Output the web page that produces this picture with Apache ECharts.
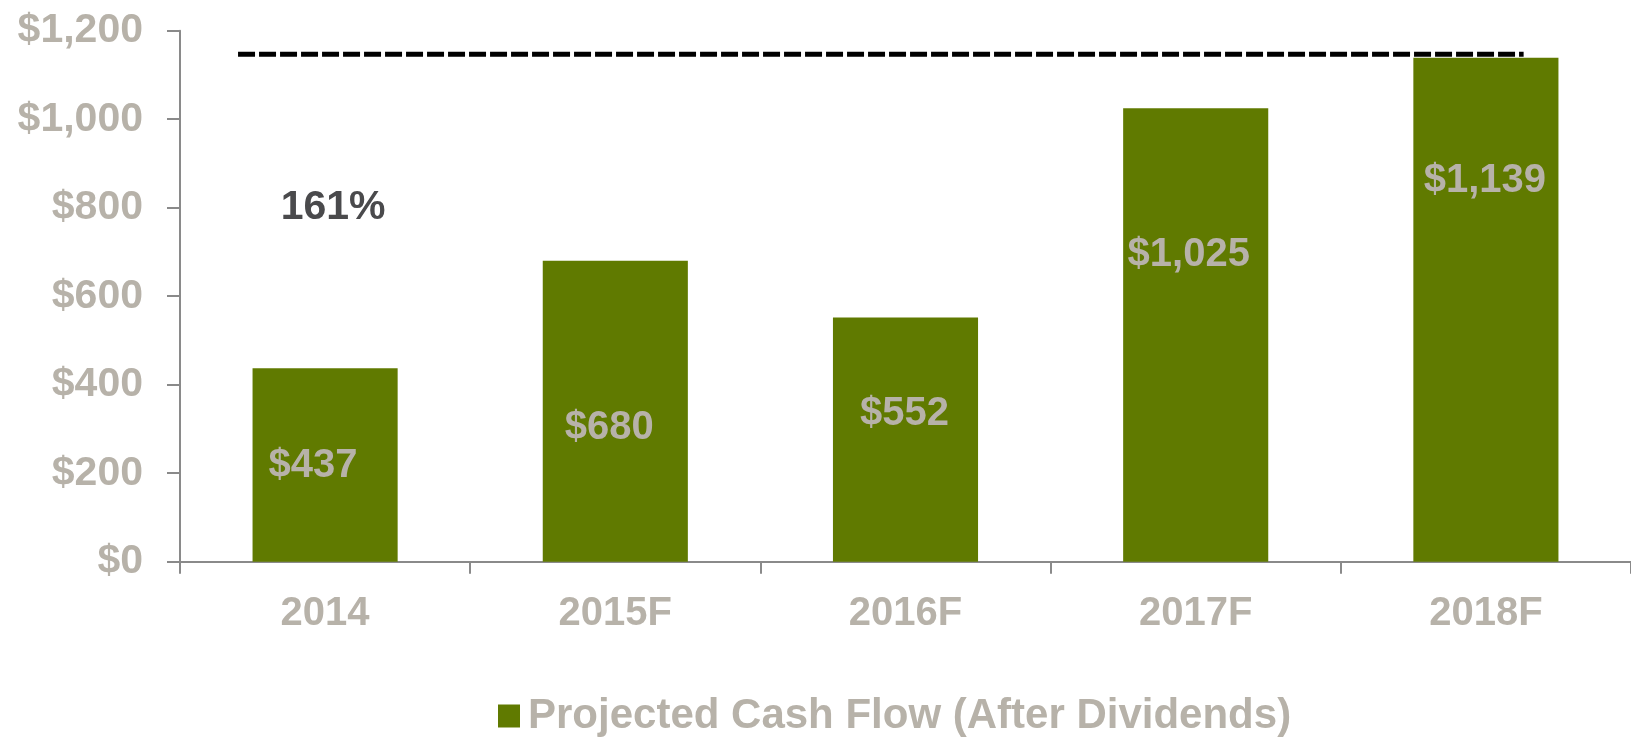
<!DOCTYPE html>
<html>
<head>
<meta charset="utf-8">
<script src="https://cdn.jsdelivr.net/npm/echarts@6/dist/echarts.min.js"></script>
<style>
html,body{margin:0;padding:0;background:#fff;}
#chart{width:1631px;height:739px;}
</style>
</head>
<body>
<div id="chart"></div>
<script>
// ---- data ----
var categories = ['2014', '2015F', '2016F', '2017F', '2018F'];
var cashFlow = [437, 680, 552, 1025, 1139];
var seriesName = 'Projected Cash Flow (After Dividends)';
var dividendLevel = 1147;          // dashed reference line value
var dividendSpan = [-0.3, 4.13];    // category-index span of dashed line
var annotationText = '161%';
var annotationAt = [0, 805];        // [category index, value]
var yTicks = { min: 0, max: 1200, interval: 200 };

// ---- styles (label nudges, px) ----
var labelOffsets = [[-12, 1], [-6, 17], [-1, -26], [-7, -80], [-1, -129]];

var FONT = '"Liberation Sans", Arial, sans-serif';
var GREEN = '#607a00';
var GREY_TXT = '#b7b2a9';
var AXIS = '#8a8a8a';

var chart = echarts.init(document.getElementById('chart'), null, {renderer: 'canvas'});

var barData = cashFlow.map(function (v, i) {
  return {
    value: v,
    label: { offset: labelOffsets[i] }
  };
});

var option = {
  backgroundColor: '#ffffff',
  animation: false,
  grid: { left: 180, right: -9, top: 30.7, bottom: 177.3, containLabel: false },
  legend: {
    data: [seriesName],
    left: 493,
    top: 690,
    itemWidth: 22,
    itemHeight: 23,
    icon: 'rect',
    textStyle: { color: GREY_TXT, fontSize: 42, fontWeight: 'bold', fontFamily: FONT, padding: [0, 0, 0, 3] }
  },
  xAxis: [{
    type: 'category',
    data: categories,
    boundaryGap: true,
    axisLine: { lineStyle: { color: AXIS, width: 2 } },
    axisTick: { show: true, length: 12, alignWithLabel: false, lineStyle: { color: AXIS, width: 2 } },
    axisLabel: { color: GREY_TXT, fontSize: 40, fontWeight: 'bold', fontFamily: FONT, margin: 32 },
    splitLine: { show: false }
  }, {
    type: 'value',
    min: -0.5,
    max: 4.5,
    show: false
  }],
  yAxis: {
    type: 'value',
    min: yTicks.min,
    max: yTicks.max,
    interval: yTicks.interval,
    axisLine: { show: true, onZero: false, lineStyle: { color: AXIS, width: 2 } },
    axisTick: { show: true, length: 13, lineStyle: { color: AXIS, width: 2 } },
    splitLine: { show: false },
    axisLabel: {
      color: GREY_TXT, fontSize: 41, fontWeight: 'bold', fontFamily: FONT, margin: 37,
      formatter: function (v) { return '$' + v.toLocaleString('en-US'); }
    }
  },
  series: [{
    name: seriesName,
    type: 'bar',
    xAxisIndex: 0,
    data: barData,
    barWidth: '50%',
    itemStyle: { color: GREEN },
    label: {
      show: true,
      position: 'inside',
      color: GREY_TXT,
      fontSize: 40,
      fontWeight: 'bold',
      fontFamily: FONT,
      formatter: function (p) { return '$' + p.value.toLocaleString('en-US'); }
    },
    markPoint: {
      symbol: 'circle',
      symbolSize: 0,
      silent: true,
      data: [{
        coord: [annotationAt[0], annotationAt[1]],
        label: {
          show: true,
          position: 'inside',
          offset: [8, 2],
          formatter: annotationText,
          color: '#4a4a4c',
          fontSize: 41,
          fontWeight: 'bold',
          fontFamily: FONT
        }
      }]
    }
  }, {
    name: 'dividendLine',
    type: 'line',
    xAxisIndex: 1,
    data: [[dividendSpan[0], dividendLevel], [dividendSpan[1], dividendLevel]],
    symbol: 'none',
    silent: true,
    lineStyle: { color: '#000000', width: 5, type: [17, 4] },
    z: 5
  }]
};

chart.setOption(option);
</script>
</body>
</html>
